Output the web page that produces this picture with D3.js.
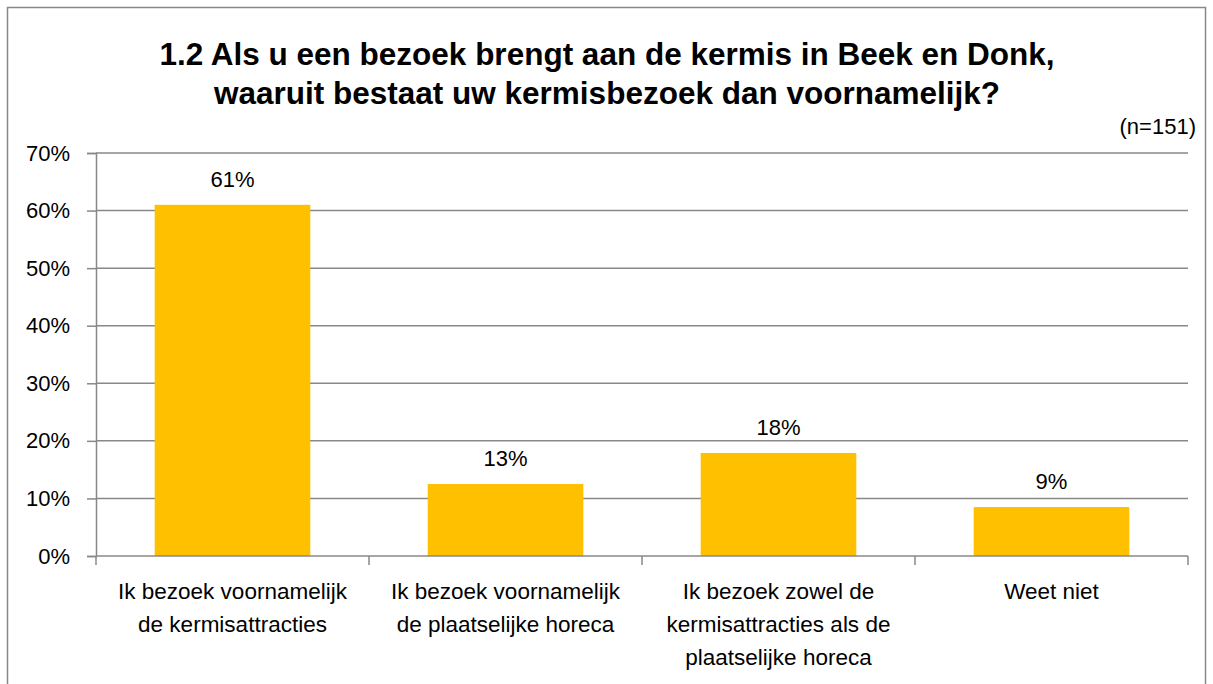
<!DOCTYPE html>
<html>
<head>
<meta charset="utf-8">
<script src="https://cdn.jsdelivr.net/npm/d3@7"></script>
<style>
  body { margin: 0; background: #fff; }
  text { font-family: "Liberation Sans", Arial, sans-serif; fill: #000; }
</style>
</head>
<body>
<script>
// data
const categories = [
  ['Ik bezoek voornamelijk', 'de kermisattracties'],
  ['Ik bezoek voornamelijk', 'de plaatselijke horeca'],
  ['Ik bezoek zowel de', 'kermisattracties als de', 'plaatselijke horeca'],
  ['Weet niet']
];
const values = [0.61, 0.125, 0.179, 0.085];
const valueLabels = ['61%', '13%', '18%', '9%'];
const yTicks = [0, 0.1, 0.2, 0.3, 0.4, 0.5, 0.6, 0.7];
const titleLines = [
  '1.2 Als u een bezoek brengt aan de kermis in Beek en Donk,',
  'waaruit bestaat uw kermisbezoek dan voornamelijk?'
];
const note = '(n=151)';

const W = 1213, H = 684;
const plotLeft = 96, plotRight = 1188, plotTop = 153, plotBottom = 556;

const svg = d3.select('body').append('svg')
  .attr('width', W).attr('height', H);

// chart border
svg.append('rect')
  .attr('x', 7.5).attr('y', 7.5)
  .attr('width', 1198).attr('height', 700)
  .attr('fill', 'none').attr('stroke', '#888').attr('stroke-width', 1.5);

// title
svg.append('g').selectAll('text')
  .data(titleLines).join('text')
  .attr('x', 607).attr('y', (d, i) => 65 + i * 39)
  .attr('text-anchor', 'middle')
  .attr('font-weight', 'bold')
  .attr('font-size', 31.5)
  .text(d => d);

svg.append('text')
  .attr('x', 1196).attr('y', 134)
  .attr('text-anchor', 'end')
  .attr('font-size', 22)
  .text(note);

const x = d3.scaleBand()
  .domain(d3.range(categories.length))
  .range([plotLeft, plotRight])
  .paddingInner(0.43).paddingOuter(0.215);

const y = d3.scaleLinear().domain([0, 0.7]).range([plotBottom, plotTop]);

// gridlines
svg.append('g').selectAll('line')
  .data(yTicks.slice(1)).join('line')
  .attr('x1', plotLeft).attr('x2', plotRight)
  .attr('y1', d => y(d)).attr('y2', d => y(d))
  .attr('stroke', '#888').attr('stroke-width', 1.5);

// y axis
const yAxis = svg.append('g')
  .attr('transform', `translate(${plotLeft},0)`)
  .call(d3.axisLeft(y).tickValues(yTicks).tickFormat(d3.format('.0%')).tickSize(9).tickPadding(17));
yAxis.select('.domain').attr('stroke', '#888').attr('stroke-width', 1.5);
yAxis.selectAll('.tick line').attr('stroke', '#888').attr('stroke-width', 1.5);
yAxis.selectAll('.tick text')
  .attr('font-size', 22)
  .attr('font-family', '"Liberation Sans", Arial, sans-serif')
  .attr('fill', '#000');

// bars
svg.append('g').selectAll('rect')
  .data(values).join('rect')
  .attr('x', (d, i) => x(i))
  .attr('y', d => y(d))
  .attr('width', x.bandwidth())
  .attr('height', d => y(0) - y(d))
  .attr('fill', '#FFC000');

// value labels
svg.append('g').selectAll('text')
  .data(values).join('text')
  .attr('x', (d, i) => x(i) + x.bandwidth() / 2)
  .attr('y', d => y(d) - 18)
  .attr('text-anchor', 'middle')
  .attr('font-size', 22)
  .text((d, i) => valueLabels[i]);

// x axis
const step = (plotRight - plotLeft) / categories.length;
svg.append('line')
  .attr('x1', plotLeft).attr('x2', plotRight)
  .attr('y1', plotBottom).attr('y2', plotBottom)
  .attr('stroke', '#888').attr('stroke-width', 1.5);
svg.append('g').selectAll('line')
  .data(d3.range(categories.length + 1)).join('line')
  .attr('x1', d => plotLeft + d * step).attr('x2', d => plotLeft + d * step)
  .attr('y1', plotBottom).attr('y2', plotBottom + 9)
  .attr('stroke', '#888').attr('stroke-width', 1.5);

const cat = svg.append('g').selectAll('text')
  .data(categories).join('text')
  .attr('text-anchor', 'middle')
  .attr('font-size', 22.5);
cat.selectAll('tspan')
  .data((d, i) => d.map(t => ({ t, i })))
  .join('tspan')
  .attr('x', d => x(d.i) + x.bandwidth() / 2)
  .attr('y', (d, j) => 599 + j * 33)
  .text(d => d.t);
</script>
</body>
</html>
